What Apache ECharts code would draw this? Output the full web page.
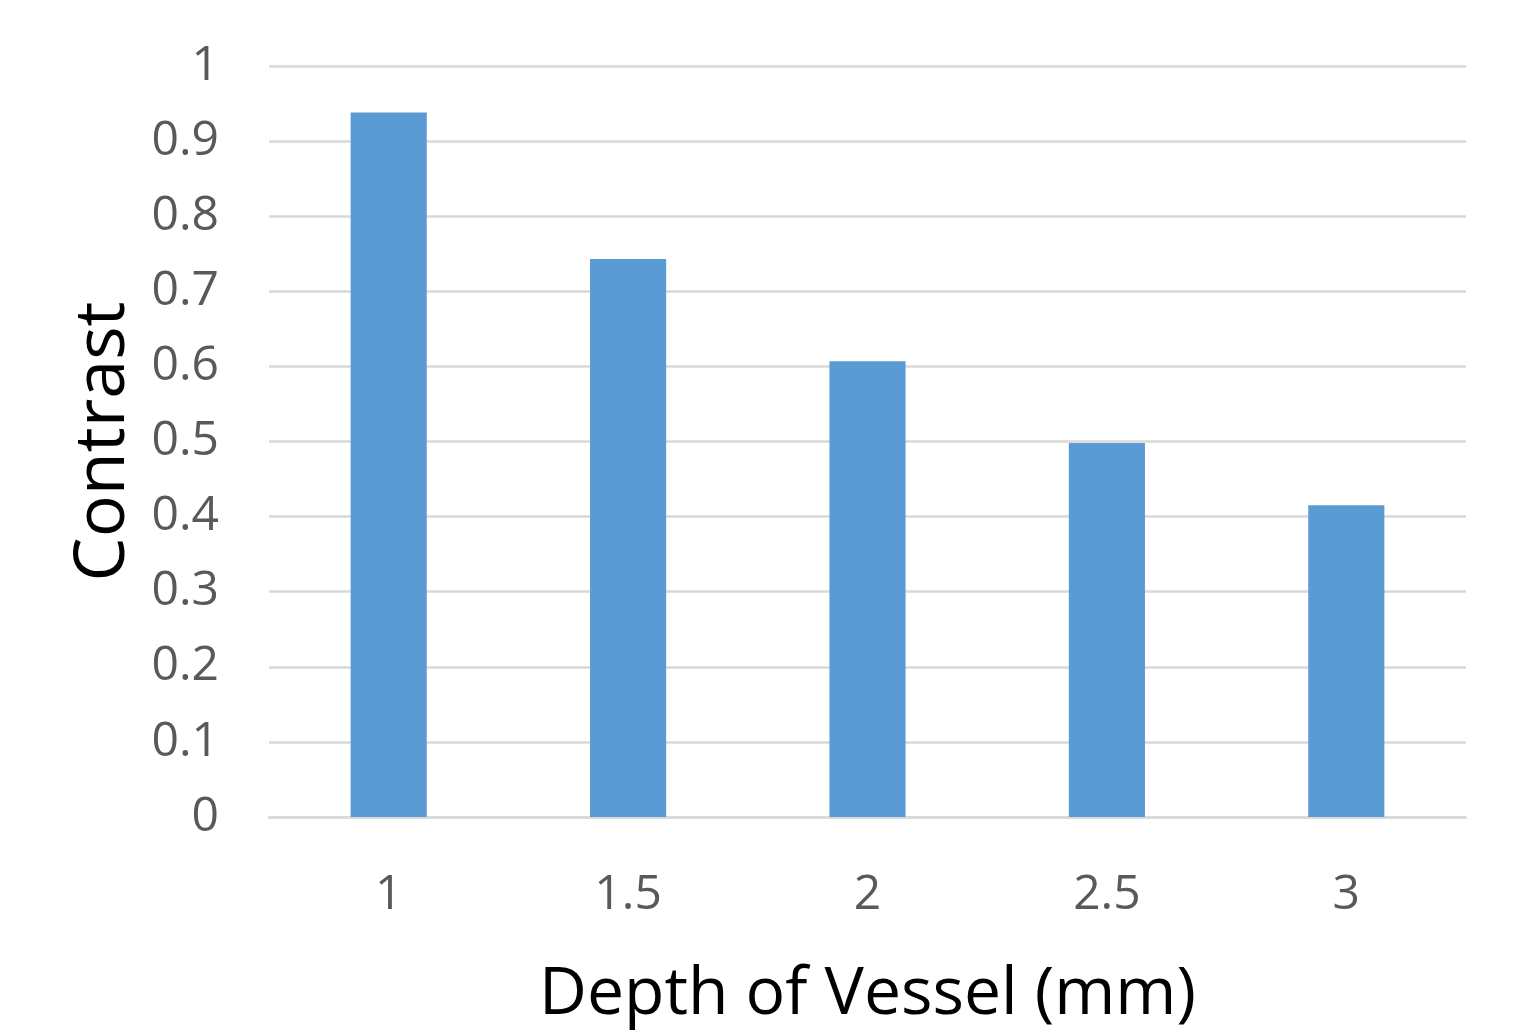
<!DOCTYPE html>
<html>
<head>
<meta charset="utf-8">
<title>Contrast vs Depth of Vessel</title>
<script src="https://cdn.jsdelivr.net/npm/echarts@6/dist/echarts.min.js"></script>
<style>
  html, body { margin: 0; padding: 0; background: #ffffff; }
  #chart { width: 1520px; height: 1033px; }
</style>
</head>
<body>
<div id="chart"></div>
<script>
// Vessel depths (mm) and the measured contrast at each depth
const depths = ['1', '1.5', '2', '2.5', '3'];
const contrast = [0.938, 0.743, 0.607, 0.498, 0.415];

// Contrast axis range and step
const yMin = 0;
const yMax = 1;
const yStep = 0.1;

const chart = echarts.init(document.getElementById('chart'), null, { renderer: 'canvas' });

const gridColor = '#d9d9d9';
const tickFont = { fontFamily: 'Open Sans', fontSize: 48, color: '#595959' };

chart.setOption({
  animation: false,
  backgroundColor: '#ffffff',
  grid: { left: 269, right: 54, top: 66, bottom: 212, containLabel: false },
  xAxis: {
    type: 'category',
    data: depths,
    name: 'Depth of Vessel (mm)',
    nameLocation: 'middle',
    nameGap: 145,
    nameTextStyle: { fontFamily: 'Open Sans', fontSize: 66, color: '#000000' },
    axisLine: { show: true, lineStyle: { color: gridColor, width: 2.5 } },
    axisTick: { show: false },
    axisLabel: Object.assign({ margin: 54 }, tickFont)
  },
  yAxis: {
    type: 'value',
    min: yMin,
    max: yMax,
    interval: yStep,
    name: 'Contrast',
    nameLocation: 'middle',
    nameGap: 130,
    nameRotate: 90,
    nameTextStyle: { fontFamily: 'Open Sans', fontSize: 70, color: '#000000' },
    axisLine: { show: false },
    axisTick: { show: false },
    splitLine: { show: true, lineStyle: { color: gridColor, width: 2.5 } },
    axisLabel: Object.assign({ margin: 50 }, tickFont)
  },
  series: [{
    type: 'bar',
    data: contrast,
    barWidth: '31.8%',
    itemStyle: { color: '#5b9bd5' }
  }]
});
</script>
</body>
</html>
